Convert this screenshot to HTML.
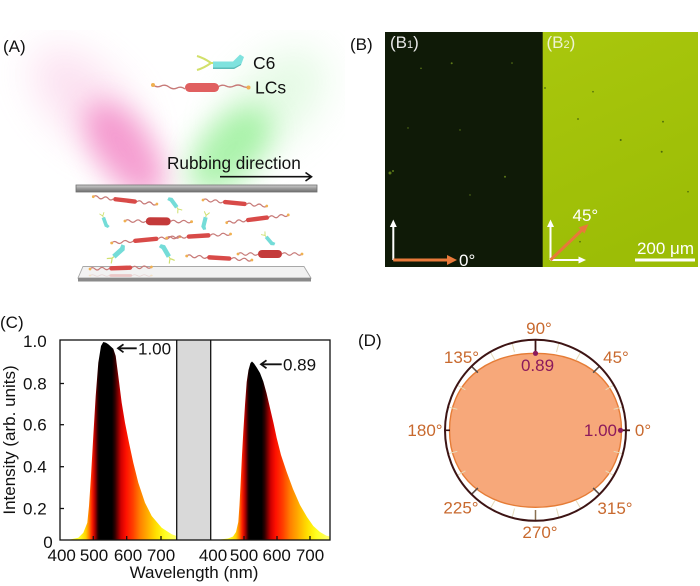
<!DOCTYPE html>
<html><head><meta charset="utf-8">
<style>
html,body{margin:0;padding:0;background:#fff;}
svg{display:block;}
text{font-family:"Liberation Sans",Arial,sans-serif;}
</style></head>
<body>
<svg width="700" height="586" viewBox="0 0 700 586" xmlns="http://www.w3.org/2000/svg">
<defs>
  <filter id="blur" x="-60%" y="-60%" width="220%" height="220%"><feGaussianBlur stdDeviation="14"/></filter>
  <filter id="blur2" x="-60%" y="-60%" width="220%" height="220%"><feGaussianBlur stdDeviation="20"/></filter>
  <clipPath id="aboveplate"><rect x="0" y="30" width="345" height="156"/></clipPath>
  <linearGradient id="b2g" x1="0" y1="0" x2="0.3" y2="1">
    <stop offset="0" stop-color="#a9c70d"/><stop offset="1" stop-color="#9cbd06"/>
  </linearGradient>
  <linearGradient id="plate" x1="0" y1="0" x2="0" y2="1">
    <stop offset="0" stop-color="#d0d0d0"/><stop offset="0.5" stop-color="#9a9a9a"/><stop offset="1" stop-color="#707070"/>
  </linearGradient>
  <linearGradient id="gL" gradientUnits="userSpaceOnUse" x1="60" y1="0" x2="177" y2="0">
    <stop offset="0" stop-color="#ffff20"/>
    <stop offset="0.171" stop-color="#ffff20"/>
    <stop offset="0.222" stop-color="#ffd000"/>
    <stop offset="0.248" stop-color="#ff8000"/>
    <stop offset="0.274" stop-color="#ff2000"/>
    <stop offset="0.299" stop-color="#b00000"/>
    <stop offset="0.325" stop-color="#200000"/>
    <stop offset="0.342" stop-color="#000000"/>
    <stop offset="0.444" stop-color="#000000"/>
    <stop offset="0.470" stop-color="#300000"/>
    <stop offset="0.496" stop-color="#800000"/>
    <stop offset="0.521" stop-color="#d00000"/>
    <stop offset="0.564" stop-color="#ff1000"/>
    <stop offset="0.624" stop-color="#ff4000"/>
    <stop offset="0.684" stop-color="#ff8000"/>
    <stop offset="0.752" stop-color="#ffb000"/>
    <stop offset="0.821" stop-color="#ffe000"/>
    <stop offset="0.897" stop-color="#ffff20"/>
    <stop offset="1" stop-color="#ffff70"/>
  </linearGradient>
  <linearGradient id="gR" gradientUnits="userSpaceOnUse" x1="208" y1="0" x2="330" y2="0">
    <stop offset="0" stop-color="#ffff20"/>
    <stop offset="0.18" stop-color="#ffff20"/>
    <stop offset="0.23" stop-color="#ffd000"/>
    <stop offset="0.255" stop-color="#ff8000"/>
    <stop offset="0.28" stop-color="#ff2000"/>
    <stop offset="0.305" stop-color="#b00000"/>
    <stop offset="0.33" stop-color="#200000"/>
    <stop offset="0.345" stop-color="#000000"/>
    <stop offset="0.44" stop-color="#000000"/>
    <stop offset="0.465" stop-color="#300000"/>
    <stop offset="0.49" stop-color="#800000"/>
    <stop offset="0.515" stop-color="#d00000"/>
    <stop offset="0.555" stop-color="#ff1000"/>
    <stop offset="0.615" stop-color="#ff4000"/>
    <stop offset="0.675" stop-color="#ff8000"/>
    <stop offset="0.745" stop-color="#ffb000"/>
    <stop offset="0.815" stop-color="#ffe000"/>
    <stop offset="0.89" stop-color="#ffff20"/>
    <stop offset="1" stop-color="#ffff70"/>
  </linearGradient>
  <g id="lc">
    <path d="M0,0 q2.5,-2.5 5,0 t5,0 t5,0 t5,0" fill="none" stroke="#c77a78" stroke-width="1.2"/>
    <rect x="20" y="-2.2" width="24" height="4.4" rx="2.2" fill="#d84a48"/>
    <path d="M44,0 q2.5,-2.5 5,0 t5,0 t5,0 t5,0" fill="none" stroke="#c77a78" stroke-width="1.2"/>
    <circle cx="0" cy="0" r="1.4" fill="#f0b050"/><circle cx="64" cy="0" r="1.4" fill="#f0b050"/>
  </g>
  <g id="lcf">
    <path d="M0,0 q2.5,-2.5 5,0 t5,0 t5,0 t5,0" fill="none" stroke="#c77a78" stroke-width="1.2"/>
    <rect x="20" y="-4" width="24" height="8" rx="4" fill="#c43a3a"/>
    <path d="M44,0 q2.5,-2.5 5,0 t5,0 t5,0 t5,0" fill="none" stroke="#c77a78" stroke-width="1.2"/>
    <circle cx="0" cy="0" r="1.4" fill="#f0b050"/><circle cx="64" cy="0" r="1.4" fill="#f0b050"/>
  </g>
  <g id="c6">
    <path d="M0,-4 Q3,-2 5,0 M0,4 Q3,2 5,0 M5,0 L8,0" fill="none" stroke="#cfe070" stroke-width="1.5"/>
    <path d="M8,-3 L21,-3 L25,-5 L27,-1 L23,3 L8,3 Z" fill="#74dcd8"/>
  </g>
</defs>

<!-- ============ Panel A ============ -->
<g clip-path="url(#aboveplate)">
  <ellipse cx="85" cy="100" rx="34" ry="66" transform="rotate(-45 85 100)" fill="#f6a8d6" opacity="0.35" filter="url(#blur2)"/>
  <ellipse cx="125" cy="150" rx="28" ry="56" transform="rotate(-36 125 150)" fill="#f280c2" opacity="0.75" filter="url(#blur)"/>
  <ellipse cx="275" cy="100" rx="36" ry="62" transform="rotate(45 275 100)" fill="#b4f2b4" opacity="0.35" filter="url(#blur2)"/>
  <ellipse cx="230" cy="150" rx="30" ry="52" transform="rotate(42 230 150)" fill="#8cee8c" opacity="0.7" filter="url(#blur)"/>
</g>
<text x="3" y="52" font-size="17" fill="#111">(A)</text>

<!-- legend -->
<path d="M197,56 Q204,58 211,63 M197,70 Q204,68 211,63 M211,63 L214,63" fill="none" stroke="#d2e06a" stroke-width="2"/>
<path d="M213,61.5 L233,61.5 L240,54.5 L244,57 L241,65 L234,69 L213,69 Z" fill="#7fe2de"/>
<path d="M213,67.5 L234,67.5 L241,64 L241,65 L234,69 L213,69 Z" fill="#5cbcb8"/>
<text x="253" y="69" font-size="17.5" fill="#111">C6</text>
<path d="M153,85 q4,3 8,1 t8,1 t8,1 t8,1 M218,87 q4,-3 8,-1 t8,0 t8,0 t6,1" fill="none" stroke="#c77a78" stroke-width="1.4"/>
<rect x="185" y="83" width="34" height="9" rx="4.5" fill="#e06060"/>
<circle cx="153" cy="85" r="2" fill="#f0b050"/><circle cx="248.5" cy="87.5" r="2" fill="#f0b050"/>
<text x="255" y="93.5" font-size="17.5" fill="#111">LCs</text>

<text x="167" y="169" font-size="17.2" fill="#111">Rubbing direction</text>
<line x1="220" y1="176.7" x2="311" y2="176.7" stroke="#111" stroke-width="1.6"/>
<polyline points="305.5,172.5 311.5,176.7 305.5,181" fill="none" stroke="#111" stroke-width="1.6"/>

<!-- top plate -->
<rect x="76" y="185" width="241" height="7" fill="url(#plate)"/>
<rect x="76" y="185" width="241" height="7" fill="none" stroke="#6f6f6f" stroke-width="0.8"/>

<!-- molecules -->
<use href="#lc" transform="translate(93.3,196.7) rotate(6.6)"/>
<use href="#lc" transform="translate(203,200) rotate(5.4)"/>
<use href="#lcf" transform="translate(125,221) rotate(0.6) scale(1.04,1)"/>
<use href="#lc" transform="translate(226.7,222.7) rotate(-7.2) scale(0.97,1)"/>
<use href="#lc" transform="translate(111.7,243) rotate(-5.3) scale(1.07,1)"/>
<use href="#lc" transform="translate(166.7,238) rotate(-3.6)"/>
<use href="#lc" transform="translate(186.7,256) rotate(3.5) scale(1.02,1)"/>
<use href="#lcf" transform="translate(238,254) scale(1,1)"/>
<use href="#c6" transform="translate(180,211.7) rotate(-126) scale(0.68)"/>
<use href="#c6" transform="translate(101.7,213) rotate(70) scale(0.6)"/>
<use href="#c6" transform="translate(207,212) rotate(104) scale(0.68)"/>
<use href="#c6" transform="translate(263,233) rotate(50) scale(0.62)"/>
<use href="#c6" transform="translate(109,261) rotate(-42) scale(0.82)"/>
<use href="#c6" transform="translate(172,262) rotate(-120) scale(0.78)"/>

<!-- bottom plate -->
<polygon points="83,266.5 304,266.5 311,278 78,278" fill="#f2f2f2" stroke="#a8a8a8" stroke-width="0.9"/>
<rect x="78" y="278" width="233" height="3.5" fill="#8a8a8a"/>
<use href="#lc" transform="translate(90,269) rotate(-1.9) scale(0.96,1)"/>
<use href="#lc" transform="translate(90,275.5) scale(0.96,0.6)" opacity="0.25"/>

<!-- ============ Panel B ============ -->
<text x="350" y="50" font-size="17" fill="#111">(B)</text>
<rect x="385" y="32" width="158" height="235" fill="#0f1a07"/>
<rect x="542.7" y="32" width="155.3" height="235" fill="url(#b2g)"/>
<g fill="#5d7a18">
  <circle cx="451.7" cy="63.3" r="1"/><circle cx="421" cy="68.3" r="0.8"/><circle cx="512" cy="63" r="0.8"/>
  <circle cx="390" cy="173" r="1.5"/><circle cx="393" cy="171" r="1"/><circle cx="505" cy="176.7" r="1"/>
  <circle cx="460" cy="130" r="0.7"/><circle cx="408" cy="128" r="0.7"/><circle cx="470" cy="195" r="0.7"/>
</g>
<g fill="#4c6a0a">
  <circle cx="545" cy="88" r="0.9"/><circle cx="593" cy="91.7" r="0.8"/><circle cx="578" cy="119" r="0.9"/>
  <circle cx="620.7" cy="140" r="1"/><circle cx="661.7" cy="151.7" r="1"/><circle cx="663" cy="121.7" r="0.9"/>
  <circle cx="688" cy="191.7" r="0.8"/><circle cx="580" cy="241.7" r="0.8"/>
</g>
<text x="390" y="48" font-size="17" fill="#e6e6e6">(B<tspan font-size="11">1</tspan>)</text>
<text x="546.5" y="48" font-size="17" fill="#eef3d2">(B<tspan font-size="11">2</tspan>)</text>

<!-- B1 arrows -->
<line x1="393.3" y1="260" x2="393.3" y2="226" stroke="#fff" stroke-width="2"/>
<polygon points="393.3,219.5 389.8,227 396.8,227" fill="#fff"/>
<line x1="393.3" y1="260" x2="452" y2="260" stroke="#fff" stroke-width="2"/>
<line x1="393.3" y1="260" x2="449" y2="260" stroke="#e8793a" stroke-width="3"/>
<polygon points="457,260 447,255 447,265" fill="#e8793a"/>
<text x="459" y="266" font-size="17" fill="#fff">0°</text>
<!-- B2 arrows -->
<line x1="550.5" y1="260" x2="550.5" y2="226" stroke="#fff" stroke-width="2"/>
<polygon points="550.5,219.5 547,227 554,227" fill="#fff"/>
<line x1="550.5" y1="260" x2="580" y2="260" stroke="#fff" stroke-width="2"/>
<polygon points="586,260 578.5,256.5 578.5,263.5" fill="#fff"/>
<line x1="550.5" y1="260" x2="583" y2="229" stroke="#e8793a" stroke-width="3"/>
<polygon points="588.5,224 578.5,227.5 584.5,233.5" fill="#e8793a"/>
<text x="572.5" y="221" font-size="17" fill="#fff">45°</text>
<rect x="635" y="258.5" width="60" height="3" fill="#fff"/>
<text x="665.5" y="254" font-size="17" fill="#fff" text-anchor="middle">200 μm</text>

<!-- ============ Panel C ============ -->
<text x="0" y="328" font-size="17" fill="#111">(C)</text>
<rect x="176.7" y="340" width="34" height="200" fill="#d9d9d9"/>
<path d="M60,540 L70,539.5 L78.3,537.7 L83.3,532.7 L87.3,522.7 L89,506 L91,476 L93.3,436 L95.7,396 L98.3,362.7 L101,346 L103.3,342 L106,342.8 L108.3,344.3 L113.3,348.7 L115.7,356 L118.3,376 L121.7,402.7 L125,422.7 L129,442.7 L133.3,462.7 L138.3,482.7 L145,502.7 L151.7,516 L161.7,527.7 L171.7,534.3 L176.7,536 L176.7,540 Z" fill="url(#gL)"/>
<path d="M211,540 L220,539.5 L228,538.5 L233,536.5 L236,532 L238.3,522 L239.5,505 L240.7,482 L242,455 L243.3,432 L245,405 L246.7,382 L248.5,370 L250.5,363 L252,361.5 L254,363.5 L256.7,367.5 L260,373 L263.3,381.5 L266.5,393 L270,408 L273.5,423 L276.7,438 L281,455 L286.7,472 L293,489 L300,505 L307,517 L313.3,526 L320,532 L326,535.5 L330,536.5 L330,540 Z" fill="url(#gR)"/>
<g fill="none" stroke="#111" stroke-width="1.3">
  <rect x="60" y="340" width="270" height="200"/>
  <line x1="176.7" y1="340" x2="176.7" y2="540"/>
  <line x1="210.7" y1="340" x2="210.7" y2="540"/>
  <line x1="93.3" y1="540" x2="93.3" y2="536"/><line x1="126.7" y1="540" x2="126.7" y2="536"/><line x1="161" y1="540" x2="161" y2="536"/>
  <line x1="244" y1="540" x2="244" y2="536"/><line x1="277" y1="540" x2="277" y2="536"/><line x1="310" y1="540" x2="310" y2="536"/>
  <line x1="60" y1="383.5" x2="64" y2="383.5"/><line x1="60" y1="424.7" x2="64" y2="424.7"/>
  <line x1="60" y1="466.7" x2="64" y2="466.7"/><line x1="60" y1="508.5" x2="64" y2="508.5"/>
</g>
<g font-size="17" fill="#111" text-anchor="end">
  <text x="46.7" y="347">1.0</text>
  <text x="46.7" y="389.5">0.8</text>
  <text x="46.7" y="430.7">0.6</text>
  <text x="46.7" y="472.7">0.4</text>
  <text x="46.7" y="514.5">0.2</text>
</g>
<text x="43.3" y="548" font-size="17" fill="#111">0</text>
<g font-size="17" fill="#111" text-anchor="middle">
  <text x="61.7" y="561">400</text><text x="94" y="561">500</text><text x="128" y="561">600</text><text x="161" y="561">700</text>
  <text x="213" y="561">400</text><text x="244" y="561">500</text><text x="276.7" y="561">600</text><text x="310" y="561">700</text>
  <text x="194" y="578">Wavelength (nm)</text>
</g>
<text transform="translate(15,440) rotate(-90)" font-size="17" fill="#111" text-anchor="middle">Intensity (arb. units)</text>
<g stroke="#111" stroke-width="1.8" fill="none">
  <line x1="118" y1="348.3" x2="136.7" y2="348.3"/>
  <polyline points="123.5,344.3 118,348.3 123.5,352.3"/>
  <line x1="261" y1="364.3" x2="281.7" y2="364.3"/>
  <polyline points="266.5,360.3 261,364.3 266.5,368.3"/>
</g>
<text x="138" y="354.3" font-size="17" fill="#111">1.00</text>
<text x="283" y="370.3" font-size="17" fill="#111">0.89</text>

<!-- ============ Panel D ============ -->
<text x="358" y="346" font-size="17" fill="#111">(D)</text>
<path d="M621.5,430.3 C621.5,384 587.1,353.3 535.5,353.3 C483.9,353.3 449.5,384 449.5,430.3 C449.5,476.6 483.9,507.3 535.5,507.3 C587.1,507.3 621.5,476.6 621.5,430.3 Z" fill="#f7a87a" stroke="#e57c36" stroke-width="1.4"/>
<g stroke="#e6dcbc" stroke-width="1">
  <line x1="613.7" y1="409.3" x2="622.4" y2="407"/>
  <line x1="605.6" y1="389.8" x2="613.4" y2="385.3"/>
  <line x1="592.8" y1="373" x2="599.2" y2="366.6"/>
  <line x1="576" y1="360.2" x2="580.5" y2="352.4"/>
  <line x1="556.5" y1="352.1" x2="558.8" y2="343.4"/>
  <line x1="514.5" y1="352.1" x2="512.2" y2="343.4"/>
  <line x1="495" y1="360.2" x2="490.5" y2="352.4"/>
  <line x1="478.2" y1="373" x2="471.8" y2="366.6"/>
  <line x1="465.4" y1="389.8" x2="457.6" y2="385.3"/>
  <line x1="457.3" y1="409.3" x2="448.6" y2="407"/>
  <line x1="457.3" y1="451.3" x2="448.6" y2="453.6"/>
  <line x1="465.4" y1="470.8" x2="457.6" y2="475.3"/>
  <line x1="478.2" y1="487.6" x2="471.8" y2="494"/>
  <line x1="495" y1="500.4" x2="490.5" y2="508.2"/>
  <line x1="514.5" y1="508.5" x2="512.2" y2="517.2"/>
  <line x1="556.5" y1="508.5" x2="558.8" y2="517.2"/>
  <line x1="576" y1="500.4" x2="580.5" y2="508.2"/>
  <line x1="592.8" y1="487.6" x2="599.2" y2="494"/>
  <line x1="605.6" y1="470.8" x2="613.4" y2="475.3"/>
  <line x1="613.7" y1="451.3" x2="622.4" y2="453.6"/>
</g>
<g stroke="#5a4a44" stroke-width="1.6">
  <line x1="593.1" y1="372.7" x2="599.5" y2="366.3"/>
  <line x1="477.9" y1="372.7" x2="471.5" y2="366.3"/>
  <line x1="477.9" y1="487.9" x2="471.5" y2="494.3"/>
  <line x1="593.1" y1="487.9" x2="599.5" y2="494.3"/>
</g>
<line x1="535.5" y1="520.8" x2="535.5" y2="510" stroke="#8a7050" stroke-width="1.5"/>
<line x1="444" y1="430.3" x2="450" y2="430.3" stroke="#3d1414" stroke-width="1.6"/>
<circle cx="535.5" cy="430.3" r="90.5" fill="none" stroke="#3d1414" stroke-width="2"/>
<line x1="535.5" y1="339.8" x2="535.5" y2="353.3" stroke="#3d1414" stroke-width="1.8"/>
<line x1="620.5" y1="430.3" x2="630" y2="430.3" stroke="#3d1414" stroke-width="1.8"/>
<circle cx="535.5" cy="353.3" r="2.6" fill="#8c1a5c"/>
<circle cx="620.5" cy="430.3" r="2.6" fill="#8c1a5c"/>
<text x="537.5" y="371" font-size="17" fill="#8c1a5c" text-anchor="middle">0.89</text>
<text x="617" y="436" font-size="17" fill="#8c1a5c" text-anchor="end">1.00</text>
<g font-size="17" fill="#c8692e" text-anchor="middle">
  <text x="539" y="334">90°</text>
  <text x="461.5" y="363">135°</text>
  <text x="616" y="363">45°</text>
  <text x="643" y="436">0°</text>
  <text x="425" y="436">180°</text>
  <text x="461" y="513.5">225°</text>
  <text x="615" y="514">315°</text>
  <text x="540" y="538">270°</text>
</g>
</svg>
</body></html>
